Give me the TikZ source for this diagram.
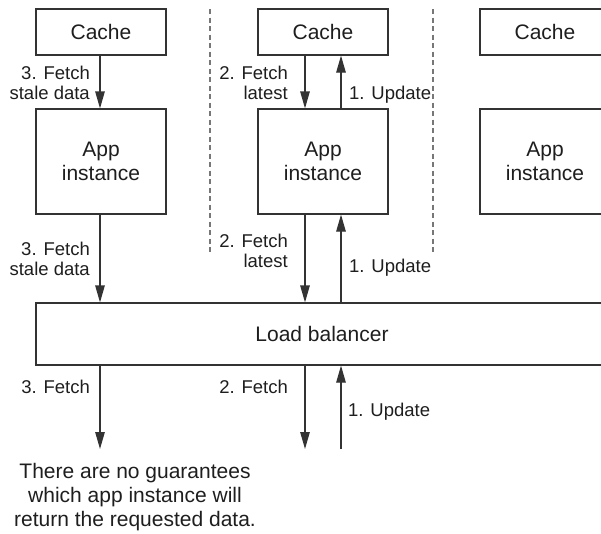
\documentclass[tikz,border=0pt]{standalone}
\usepackage{fontspec}
\setmainfont{Liberation Sans}
\usetikzlibrary{arrows.meta}
\definecolor{ln}{HTML}{333333}
\definecolor{tx}{HTML}{1E1E1E}
\definecolor{dsh}{HTML}{777777}
\begin{document}
\begin{tikzpicture}[x=1pt,y=-1pt,
  box/.style={draw=ln,line width=1.2pt,fill=white,text=tx,inner sep=0,align=center,font=\fontsize{21}{24}\selectfont},
  lbl/.style={inner sep=0,text=tx,font=\fontsize{18.5}{20.5}\selectfont},
  arr/.style={draw=ln,line width=1.2pt,-{Triangle[length=17pt,width=9.5pt]}},
  sep/.style={draw=dsh,line width=1.1pt,dash pattern=on 5pt off 3.5pt}]
\useasboundingbox (0,0) rectangle (601,533);
\clip (0,0) rectangle (601,533);
% boxes
\node[box,minimum width=130,minimum height=46] (c1) at (101,32) {Cache};
\node[box,minimum width=130,minimum height=105] (a1) at (101,161.5) {App\\instance};
\node[box,minimum width=130,minimum height=46] (c2) at (323,32) {Cache};
\node[box,minimum width=130,minimum height=105] (a2) at (323,161.5) {App\\instance};
\node[box,minimum width=130,minimum height=46] (c3) at (545,32) {Cache};
\node[box,minimum width=130,minimum height=105] (a3) at (545,161.5) {App\\instance};
\node[box,minimum width=572,minimum height=62] (lb) at (322,334) {Load balancer};
% separators
\coordinate (s1a) at (210,9); \coordinate (s1b) at (210,252);
\coordinate (s2a) at (433,9); \coordinate (s2b) at (433,252);
\draw[sep] (s1a) -- (s1b);
\draw[sep] (s2a) -- (s2b);
% column 1
\draw[arr] ([xshift=-1pt]c1.south) -- ([xshift=-1pt]a1.north);
\draw[arr] ([xshift=-1pt]a1.south) -- (lb.north -| 100,0);
\node[lbl,anchor=east,align=right] (l1) at (90,83) {3. Fetch\\stale data};
\node[lbl,anchor=east,align=right] (l2) at (90,259) {3. Fetch\\stale data};
% column 2
\draw[arr] ([xshift=-18pt]c2.south) -- ([xshift=-18pt]a2.north);
\draw[arr] ([xshift=18pt]a2.north) -- ([xshift=18pt]c2.south);
\draw[arr] ([xshift=-18pt]a2.south) -- (lb.north -| 305,0);
\draw[arr] (lb.north -| 341,0) -- ([xshift=18pt]a2.south);
\node[lbl,anchor=east,align=right] (l3) at (288,83) {2. Fetch\\latest};
\node[lbl,anchor=east,align=right] (l4) at (288,251) {2. Fetch\\latest};
\node[lbl,anchor=west] (l5) at (349,95) {1. Update};
\node[lbl,anchor=west] (l6) at (349,268) {1. Update};
% bottom
\coordinate (e3) at (100,449);
\coordinate (e2) at (305,449);
\coordinate (e1) at (341,449);
\draw[arr] (lb.south -| e3) -- (e3);
\draw[arr] (lb.south -| e2) -- (e2);
\draw[arr] (e1) -- (lb.south -| e1);
\node[lbl,anchor=east] (b3) at (90,387) {3. Fetch};
\node[lbl,anchor=east] (b2) at (288,387) {2. Fetch};
\node[lbl,anchor=west] (b1) at (348,412) {1. Update};
\node[inner sep=0,text=tx,align=center,font=\fontsize{21}{24}\selectfont] (note) at (135,497) {There are no guarantees\\which app instance will\\return the requested data.};
\end{tikzpicture}
\end{document}
